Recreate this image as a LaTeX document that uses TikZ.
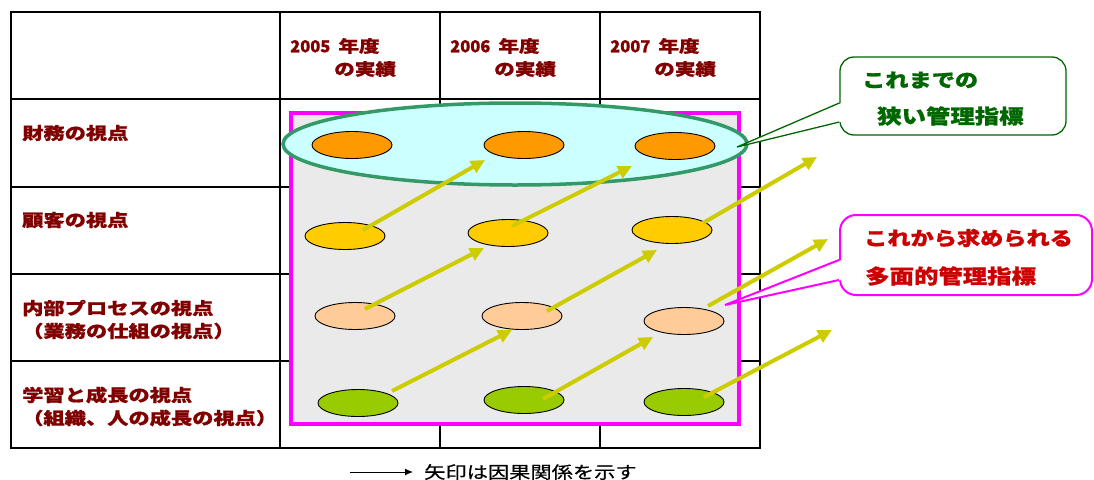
\documentclass[tikz,border=0pt]{standalone}
\usepackage{fontspec}
\usetikzlibrary{arrows.meta,calc,shapes.geometric}
\newfontfamily\jpd{Noto Sans CJK JP}[BoldFeatures={FakeBold=0.8}]
\newfontfamily\jps{Noto Sans CJK JP}[FakeStretch=1.25, BoldFeatures={FakeBold=0.8}]
\newfontfamily\jpc{Noto Sans CJK JP}[FakeStretch=1.22, BoldFeatures={FakeBold=1}]
\newfontfamily\jpl{Noto Sans CJK JP}[FakeStretch=1.25, FakeBold=0.5]
\definecolor{maroonT}{HTML}{800000}
\definecolor{orangeE}{HTML}{FF9900}
\definecolor{yellowE}{HTML}{FFCC00}
\definecolor{peachE}{HTML}{FFCC99}
\definecolor{greenE}{HTML}{99CC00}
\definecolor{arrowC}{HTML}{CCCC00}
\definecolor{cyanF}{HTML}{CCFFFF}
\definecolor{tealB}{HTML}{339966}
\definecolor{grayF}{HTML}{EAEAEA}
\definecolor{magB}{HTML}{FF00FF}
\definecolor{greenT}{HTML}{006600}
\definecolor{redT}{HTML}{CC0000}
\newcommand{\yr}[1]{{\jpd #1}\hspace{8pt}{\jps 年度}}
\tikzset{
  grid/.style={line width=1.6pt, black},
  pill/.style={ellipse, draw=black, line width=0.9pt, minimum width=80pt, minimum height=27pt, inner sep=0pt},
  causal/.style={line width=4pt, arrowC, -{Triangle[length=14pt,width=13pt]}},
  hdr/.style={anchor=west, inner sep=0pt, text=maroonT, font=\jps\bfseries\fontsize{16.5}{20}\selectfont},
  lbl/.style={anchor=west, inner sep=0pt, text=maroonT, font=\jps\bfseries\fontsize{17}{20}\selectfont},
  calltxt/.style={anchor=west, inner sep=0pt, font=\jpc\bfseries\fontsize{19}{22}\selectfont},
  calltxtk/.style={anchor=west, inner sep=0pt, font=\jpc\bfseries\fontsize{20}{22}\selectfont},
  legendtxt/.style={anchor=west, inner sep=0pt, text=black, font=\jpl\fontsize{17}{20}\selectfont},
}
\begin{document}
\begin{tikzpicture}[x=1pt,y=-1pt]
\useasboundingbox (0,0) rectangle (1094,479);
% table grid
\draw[grid] (11,12) rectangle (760,448);
\foreach \xx in {280,440,600} \draw[grid] (\xx,12) -- (\xx,448);
\foreach \yy in {99,187,274,361} \draw[grid] (11,\yy) -- (760,\yy);
% headers
\node[hdr] (h1a) at (290,46) {\yr{2005}};
\node[hdr] (h1b) at (334,69) {の実績};
\node[hdr] (h2a) at (450,46) {\yr{2006}};
\node[hdr] (h2b) at (494,69) {の実績};
\node[hdr] (h3a) at (610,46) {\yr{2007}};
\node[hdr] (h3b) at (654,69) {の実績};
% row labels
\node[lbl] (r1) at (22,133) {財務の視点};
\node[lbl] (r2) at (22,220) {顧客の視点};
\node[lbl] (r3a) at (22,308) {内部プロセスの視点};
\node[lbl] (r3b) at (22,331) {（業務の仕組の視点）};
\node[lbl] (r4a) at (22,395) {学習と成長の視点};
\node[lbl] (r4b) at (22,418) {（組織、人の成長の視点）};
% gray area
\draw[line width=3.5pt, magB, fill=grayF] (291,113) rectangle (739,424);
% big ellipse
\node[ellipse, draw=tealB, fill=cyanF, line width=3.5pt, minimum width=464pt, minimum height=82pt, inner sep=0pt] (fin) at (515,144) {};
% small ellipses
\node[pill, fill=orangeE] (e11) at (352,145) {};
\node[pill, fill=orangeE] (e12) at (524,145) {};
\node[pill, fill=orangeE] (e13) at (675,146) {};
\node[pill, fill=yellowE] (e21) at (345,236) {};
\node[pill, fill=yellowE] (e22) at (508,233) {};
\node[pill, fill=yellowE] (e23) at (672,230) {};
\node[pill, fill=peachE] (e31) at (355,316) {};
\node[pill, fill=peachE] (e32) at (522,316) {};
\node[pill, fill=peachE] (e33) at (684,321) {};
\node[pill, fill=greenE] (e41) at (358,403) {};
\node[pill, fill=greenE] (e42) at (524,400) {};
\node[pill, fill=greenE] (e43) at (684,402) {};
% free ends
\coordinate (f1) at (817,157);
\coordinate (f2) at (828,239);
\coordinate (f3) at (832,330);
% causal arrows
\draw[causal] ($(e21)+(18,-6)$) -- ($(e12)+(-39,15)$);
\draw[causal] ($(e22)+(4,-7)$) -- ($(e13)+(-43,20)$);
\draw[causal] ($(e23)+(31,-7)$) -- (f1);
\draw[causal] ($(e31)+(10,-7)$) -- ($(e22)+(-24,15)$);
\draw[causal] ($(e32)+(25,-5)$) -- ($(e23)+(-15,20)$);
\draw[causal] ($(e33)+(24,-15)$) -- (f2);
\draw[causal] ($(e41)+(34,-12)$) -- ($(e32)+(-10,14)$);
\draw[causal] ($(e42)+(19,-1)$) -- ($(e33)+(-31,16)$);
\draw[causal] ($(e43)+(20,-5)$) -- (f3);
% callout 1
\node[draw=greenT, line width=1.3pt, fill=white, rounded corners=14pt, minimum width=226pt, minimum height=78pt, inner sep=0pt] (c1) at (953,96) {};
\coordinate (t1) at (737,147);
\fill[white] ($(c1.west)+(2,7)$) -- (t1) -- ($(c1.west)+(2,26)$) -- cycle;
\draw[greenT, line width=1.3pt] ($(c1.west)+(0,7)$) -- (t1) -- ($(c1.west)+(0,26)$);
\node[calltxt, text=greenT] (c1a) at (862,80) {これまでの};
\node[calltxtk, text=greenT] (c1b) at (877,116) {狭い管理指標};
% callout 2
\node[draw=magB, line width=2pt, fill=white, rounded corners=16pt, minimum width=252pt, minimum height=80pt, inner sep=0pt] (c2) at (966,255) {};
\coordinate (t2) at (725,305);
\fill[white] ($(c2.west)+(2.5,5)$) -- (t2) -- ($(c2.west)+(2.5,25)$) -- cycle;
\draw[magB, line width=2pt] ($(c2.west)+(0,5)$) -- (t2) -- ($(c2.west)+(0,25)$);
\node[calltxt, text=redT] (c2a) at (864,238) {これから求められる};
\node[calltxtk, text=redT] (c2b) at (865,276) {多面的管理指標};
% legend
\coordinate (lgs) at (350,472);
\node[legendtxt] (lg) at (424,472) {矢印は因果関係を示す};
\draw[line width=1pt, -{Latex[length=8pt,width=7pt]}] (lgs) -- ($(lg.west)+(-11,0)$);
\end{tikzpicture}
\end{document}
